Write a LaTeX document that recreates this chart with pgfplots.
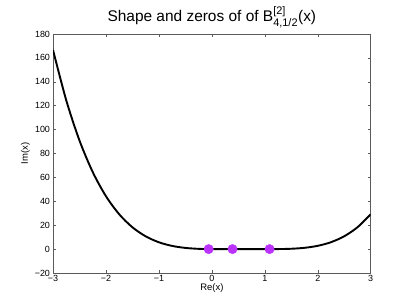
\documentclass[border=0pt]{standalone}
\usepackage{pgfplots}
\pgfplotsset{compat=1.18}
\usepackage{fontspec}
\setmainfont{Liberation Sans}
\definecolor{zc}{RGB}{187,50,250}
\definecolor{ax}{RGB}{90,90,90}
\begin{document}
\begin{tikzpicture}
\path[use as bounding box] (0,0) rectangle (409bp,307bp);
\begin{axis}[
  at={(53bp,34bp)}, anchor=south west,
  scale only axis, width=317.7bp, height=239bp,
  xmin=-3, xmax=3, ymin=-20, ymax=180,
  xtick={-3,...,3}, ytick={-20,0,...,180},
  xticklabels={−3,−2,−1,0,1,2,3},
  yticklabels={−20,0,20,40,60,80,100,120,140,160,180},
  tick align=inside, tick pos=both,
  major tick length=3bp,
  axis line style={ax, line width=0.6bp},
  every tick/.style={ax, line width=0.5bp},
  tick label style={font=\fontsize{9}{9}\selectfont},
  xticklabel style={yshift=1bp},
  yticklabel style={xshift=0.5bp},
  xlabel={Re(x)}, ylabel={Im(x)},
  label style={font=\fontsize{9.5}{10}\selectfont},
  xlabel style={yshift=5.5bp},
  ylabel style={yshift=-2bp},
  title={Shape and zeros of of B$^{\hbox{\fontsize{11}{11}\selectfont [2]}}_{\hbox{\fontsize{11}{11}\selectfont 4,1/2}}$(x)},
  title style={font=\fontsize{15.5}{16}\selectfont, yshift=-3bp},
]
\addplot[black, line width=1.9bp, smooth] coordinates {
(-3,166.72) (-2.75,124.55) (-2.5,90.88) (-2.25,64.50) (-2,44.27)
(-1.75,29.17) (-1.5,18.26) (-1.25,10.69) (-1,5.707) (-0.75,2.663)
(-0.5,0.990) (-0.25,0.218) (0,-0.028) (0.25,-0.031) (0.5,0.021)
(0.75,0.034) (1,0.005) (1.25,0.029) (1.5,0.291) (1.75,1.072)
(2,2.746) (2.25,5.782) (2.5,10.739) (2.75,18.274) (3,29.136)
};
\addplot[only marks, mark=*, mark size=4.7bp, mark options={fill=zc, draw=zc}] coordinates {
(-0.06,0) (0.39,0) (1.09,0)
};
\end{axis}
\end{tikzpicture}
\end{document}
